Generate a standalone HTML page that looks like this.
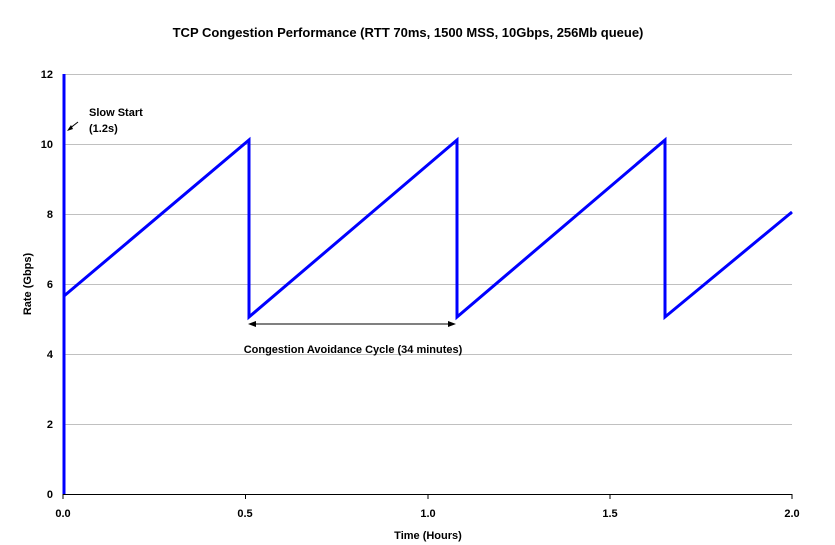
<!DOCTYPE html>
<html><head><style>body{margin:0;background:#fff}svg{display:block}text{font-family:"Liberation Sans",Arial,sans-serif;font-weight:bold;fill:#000}</style></head>
<body>
<svg width="835" height="545" viewBox="0 0 835 545" xmlns="http://www.w3.org/2000/svg">
<text x="408" y="37" font-size="13" text-anchor="middle">TCP Congestion Performance (RTT 70ms, 1500 MSS, 10Gbps, 256Mb queue)</text>
<g stroke="#c0c0c0" stroke-width="1">
<line x1="63" y1="74.5" x2="792" y2="74.5"/><line x1="63" y1="144.5" x2="792" y2="144.5"/>
<line x1="63" y1="214.5" x2="792" y2="214.5"/><line x1="63" y1="284.5" x2="792" y2="284.5"/>
<line x1="63" y1="354.5" x2="792" y2="354.5"/><line x1="63" y1="424.5" x2="792" y2="424.5"/>
</g>
<line x1="63" y1="494.5" x2="792" y2="494.5" stroke="#000"/>
<g stroke="#000"><line x1="63" y1="494" x2="63" y2="499"/><line x1="245.5" y1="494" x2="245.5" y2="499"/><line x1="428" y1="494" x2="428" y2="499"/><line x1="610" y1="494" x2="610" y2="499"/><line x1="792" y1="494" x2="792" y2="499"/></g>
<g font-size="11" text-anchor="end">
<text x="53" y="78">12</text><text x="53" y="148">10</text><text x="53" y="218">8</text><text x="53" y="288">6</text><text x="53" y="358">4</text><text x="53" y="428">2</text><text x="53" y="498">0</text>
</g>
<g font-size="11" text-anchor="middle">
<text x="63" y="517">0.0</text><text x="245" y="517">0.5</text><text x="428" y="517">1.0</text><text x="610" y="517">1.5</text><text x="792" y="517">2.0</text>
</g>
<text x="428" y="539" font-size="11" text-anchor="middle">Time (Hours)</text>
<text x="31" y="284" font-size="11" text-anchor="middle" transform="rotate(-90 31 284)">Rate (Gbps)</text>
<line x1="64" y1="74" x2="64" y2="494" stroke="#0000ff" stroke-width="3"/>
<polyline fill="none" stroke="#0000ff" stroke-width="3" points="64,296 249,140 249,317 457,140 457,317 665,140 665,317 792,212"/>
<text x="89" y="116" font-size="11">Slow Start</text>
<text x="89" y="132" font-size="11">(1.2s)</text>
<line x1="78" y1="122" x2="69" y2="129" stroke="#000"/>
<polygon points="67,131 71,125 73,129" fill="#000"/>
<line x1="252" y1="324" x2="452" y2="324" stroke="#000"/>
<polygon points="248,324 256,321 256,327" fill="#000"/>
<polygon points="456,324 448,321 448,327" fill="#000"/>
<text x="353" y="353" font-size="11" text-anchor="middle">Congestion Avoidance Cycle (34 minutes)</text>
</svg>
</body></html>
